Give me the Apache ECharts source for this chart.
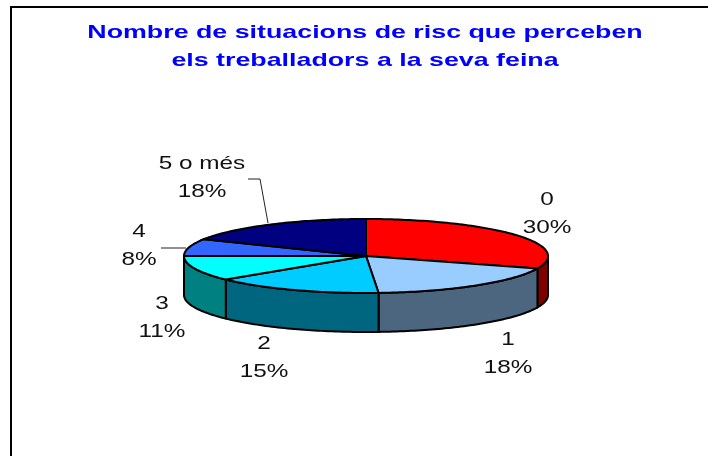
<!DOCTYPE html>
<html>
<head>
<meta charset="utf-8">
<style>
  html, body { margin: 0; padding: 0; background: #fff; }
  #chart { width: 708px; height: 456px; }
</style>
<script src="https://cdn.jsdelivr.net/npm/echarts@6/dist/echarts.min.js"></script>
</head>
<body>
<div id="chart"></div>
<script>
const titleLines = ["Nombre de situacions de risc que perceben", "els treballadors a la seva feina"]
const categories = ["0", "1", "2", "3", "4", "5 o més"]
const shares = [30.45, 18.45, 15.1, 11.0, 7.5, 17.5]
const topColors = ["#ff0000", "#99ccff", "#00ccff", "#00ffff", "#3366ff", "#000080"]
const sideColors = ["#800000", "#4d6680", "#006680", "#008080", "#1a3380", "#000040"]

// pie layout, the chart is a flattened disc seen from above
const cx = 366
const cy = 256
const rx = 182
const ry = 37
const depth = 39
const labelCenters = [[547, 214], [508, 354], [264, 358], [162, 318], [139, 246], [202, 178]]
const textStretch = 1.28
const titleStretch = 1.41

const total = shares.reduce((a, b) => a + b, 0)
const toAngle = (share) => (share / total) * Math.PI * 2

const rim = (a, dy) => [cx + rx * Math.sin(a), cy - ry * Math.cos(a) + dy]

const arc = (a0, a1, dy) => {
  const steps = Math.max(2, Math.ceil((a1 - a0) / 0.02))
  const pts = []
  for (let i = 0; i <= steps; i++) {
    pts.push(rim(a0 + ((a1 - a0) * i) / steps, dy))
  }
  return pts
}

const renderSlice = (params, api) => {
  const i = api.value(0)
  const a0 = toAngle(shares.slice(0, i).reduce((a, b) => a + b, 0))
  const a1 = a0 + toAngle(api.value(1))
  const children = []
  // only the front half of the rim is visible
  const s0 = Math.max(a0, Math.PI / 2)
  const s1 = Math.min(a1, (Math.PI * 3) / 2)
  if (s1 > s0) {
    children.push({
      type: "polygon",
      shape: { points: arc(s0, s1, 0).concat(arc(s0, s1, depth).reverse()) },
      style: { fill: sideColors[i], stroke: "#000", lineWidth: 2 },
    })
  }
  children.push({
    type: "polygon",
    shape: { points: [[cx, cy]].concat(arc(a0, a1, 0)) },
    style: { fill: topColors[i], stroke: "#000", lineWidth: 2 },
  })
  return { type: "group", children }
}

const textEl = (text, x, y, stretch, style) => ({
  type: "text",
  x,
  y,
  scaleX: stretch,
  silent: true,
  style: Object.assign({ text, textAlign: "center", textVerticalAlign: "middle" }, style),
})

const labelStyle = { fontFamily: "Liberation Sans", fontSize: 19, fill: "#111" }
const titleStyle = { fontFamily: "Liberation Sans", fontSize: 19, fontWeight: "bold", fill: "#0000ff" }

const leaderStyle = { stroke: "#222", lineWidth: 1, fill: null }

const myChart = echarts.init(document.getElementById("chart"), null, { renderer: "canvas" })

myChart.setOption({
  animation: false,
  backgroundColor: "#fff",
  series: [
    {
      type: "custom",
      coordinateSystem: "none",
      silent: true,
      data: shares.map((v, i) => [i, v]),
      renderItem: renderSlice,
    },
  ],
  graphic: [
    // frame, the chart area only shows its top and left edge
    { type: "polyline", silent: true, shape: { points: [[11, 456], [11, 7], [708, 7]] }, style: { stroke: "#000", lineWidth: 2, fill: null } },
    { type: "polyline", silent: true, shape: { points: [[248, 179], [260, 179], [268, 223]] }, style: leaderStyle },
    { type: "polyline", silent: true, shape: { points: [[161, 248], [186, 248]] }, style: leaderStyle },
    textEl(titleLines[0], 365, 33, titleStretch, titleStyle),
    textEl(titleLines[1], 365, 61, titleStretch, titleStyle),
    ...categories.flatMap((name, i) => [
      textEl(name, labelCenters[i][0], labelCenters[i][1] - 14, textStretch, labelStyle),
      textEl(Math.round((shares[i] / total) * 100) + "%", labelCenters[i][0], labelCenters[i][1] + 14, textStretch, labelStyle),
    ]),
  ],
})

window.addEventListener("resize", () => myChart.resize())
</script>
</body>
</html>
